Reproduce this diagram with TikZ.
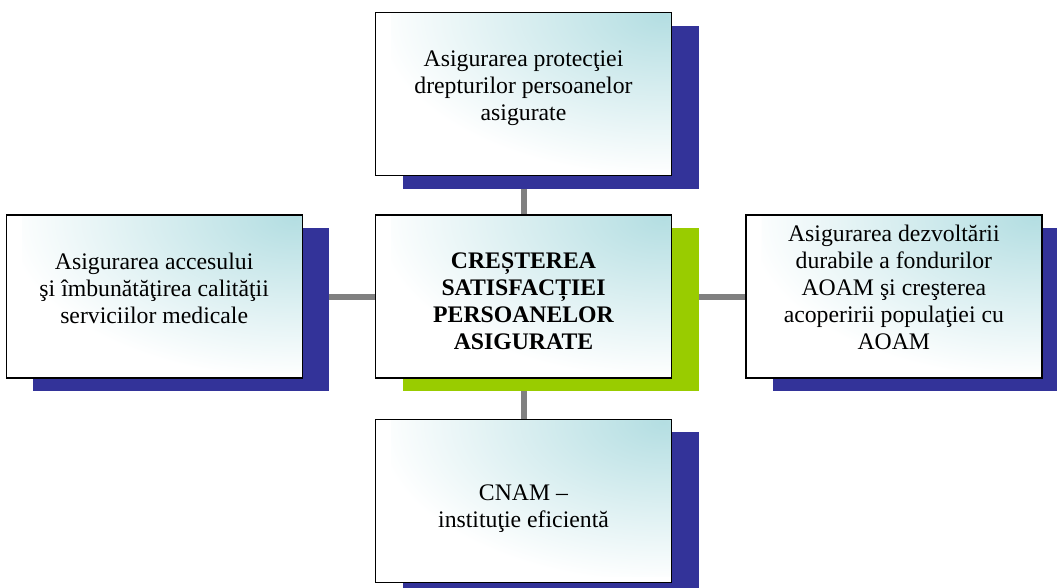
\documentclass[tikz,border=0pt]{standalone}
\usepackage{fontspec}
\setmainfont{Liberation Serif}
\usetikzlibrary{positioning,shadows,backgrounds}

\definecolor{shadowblue}{RGB}{51,51,153}
\definecolor{shadowgreen}{RGB}{153,204,0}
\definecolor{paleblue}{RGB}{180,222,226}
\definecolor{linkgrey}{RGB}{128,128,128}

\begin{document}
\begin{tikzpicture}[x=0.75pt, y=-0.75pt,
  goalbox/.style={rectangle, draw=black, line width=1pt, inner sep=0pt,
    minimum width=222pt, minimum height=122.25pt, fill=white,
    path picture={\shade[inner color=paleblue, outer color=white]
      ([xshift=-210pt, yshift=-118pt]path picture bounding box.north east) rectangle
      ([xshift=210pt, yshift=118pt]path picture bounding box.north east);},
    general shadow={fill=#1, shadow xshift=20.25pt, shadow yshift=-9.75pt}},
  goalbox/.default=shadowblue,
  goaltext/.style={align=center, inner sep=0pt, font=\fontsize{17.8}{20.25}\selectfont},
  link/.style={draw=linkgrey, line width=4.5pt}]
  \useasboundingbox (0,0) rectangle (1057,588);

  % boxes
  \node[goalbox=shadowgreen] (centre) at (523.5,296.5) {};
  \node[goalbox, above=28.5pt of centre] (protect) {};
  \node[goalbox, below=30pt of centre] (cnam) {};
  \node[goalbox, left=54pt of centre] (access) {};
  \node[goalbox, right=54.75pt of centre] (funds) {};

  % texts
  \node[goaltext, font=\fontsize{17.8}{20.25}\selectfont\bfseries] (centre-text) at ([yshift=-3.6pt]centre.center)
    {CREȘTEREA\\SATISFACȚIEI\\PERSOANELOR\\ASIGURATE};
  \node[goaltext] (protect-text) at ([yshift=4.2pt]protect.center)
    {Asigurarea protecţiei\\drepturilor persoanelor\\asigurate};
  \node[goaltext] (cnam-text) at ([yshift=-6pt]cnam.center)
    {CNAM –\\instituţie eficientă};
  \node[goaltext] (access-text) at ([yshift=6.2pt]access.center)
    {Asigurarea accesului\\şi îmbunătăţirea calităţii\\serviciilor medicale};
  \node[goaltext] (funds-text) at ([yshift=6.5pt]funds.center)
    {Asigurarea dezvoltării\\durabile a fondurilor\\AOAM şi creşterea\\acoperirii populaţiei cu\\AOAM};

  % connectors
  \begin{pgfonlayer}{background}
    \draw[link] (protect) -- (centre);
    \draw[link] (cnam) -- (centre);
    \draw[link] (access) -- (centre);
    \draw[link] (funds) -- (centre);
  \end{pgfonlayer}
\end{tikzpicture}
\end{document}
